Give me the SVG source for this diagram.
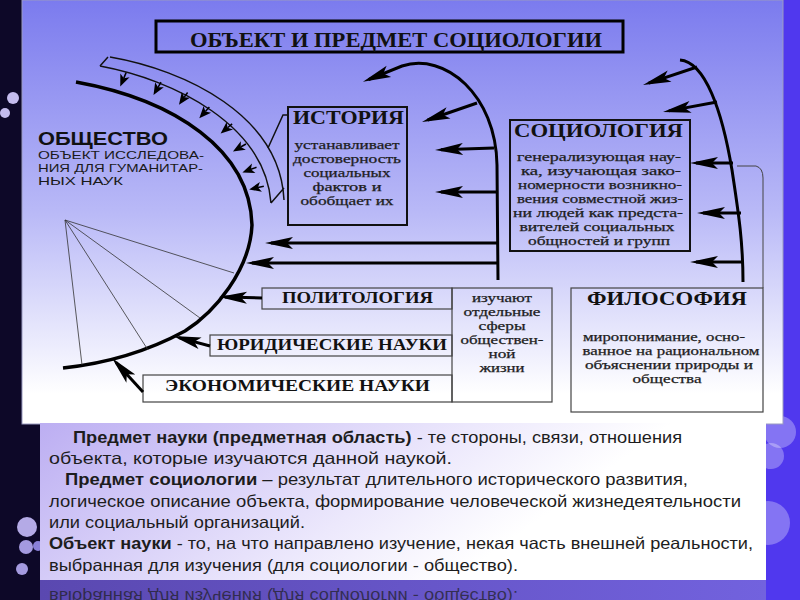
<svg xmlns="http://www.w3.org/2000/svg" width="800" height="600" viewBox="0 0 800 600">
<defs>
<style>
.box{fill:none;stroke:#111;stroke-width:2}
.lbox{fill:none;stroke:#444;stroke-width:1.2}
.ttl{font-family:"Liberation Serif","Times New Roman",serif;font-weight:bold;fill:#111}
.body{font-family:"Liberation Serif","Times New Roman",serif;font-size:12px;fill:#1e1e1e;text-anchor:middle;stroke:#1e1e1e;stroke-width:0.25}
.arr{fill:none;stroke:#000;stroke-width:3;marker-end:url(#ah)}
.pn{font-family:"Liberation Sans","DejaVu Sans",sans-serif;font-size:16.5px;fill:#1d1d1d}
.fan{stroke:#333;stroke-width:0.8;fill:none}
.bok{fill:#ffffff;fill-opacity:0.3}
</style>
<linearGradient id="gImg" x1="0" y1="0" x2="0" y2="1">
<stop offset="0" stop-color="#7b7bee"/>
<stop offset="0.5" stop-color="#b9b9f7"/>
<stop offset="0.93" stop-color="#ffffff"/>
<stop offset="1" stop-color="#ffffff"/>
</linearGradient>
<linearGradient id="gPan" x1="0" y1="0" x2="1" y2="0.3">
<stop offset="0" stop-color="#bcaef2"/>
<stop offset="0.55" stop-color="#ece8fc"/>
<stop offset="0.8" stop-color="#ffffff"/>
</linearGradient>
<linearGradient id="gRef" x1="0" y1="0" x2="1" y2="0">
<stop offset="0" stop-color="#5a48b0"/>
<stop offset="1" stop-color="#7262de"/>
</linearGradient>
<clipPath id="cRef"><rect x="40" y="580" width="726" height="20"/></clipPath>
<marker id="ah" viewBox="-30 -7 32 14" refX="-6" refY="0" markerWidth="32" markerHeight="14" markerUnits="userSpaceOnUse" orient="auto">
<path d="M0,0 L-28,-6 L-22,0 L-28,6 Z" fill="#000"/>
</marker>
<g id="sa"><path d="M7,0 L-5,-5 L-2,0 L-5,5 Z" fill="#000"/><path d="M-2,0 L-8,0" stroke="#000" stroke-width="1.5"/></g>
</defs>

<!-- background -->
<rect x="0" y="0" width="800" height="600" fill="#0d0828"/>
<rect x="766" y="0" width="34" height="600" fill="#5038ee"/>
<circle class="bok" cx="780" cy="432" r="16"/>
<circle class="bok" cx="771" cy="456" r="13"/>
<circle class="bok" cx="768" cy="523" r="22"/>
<circle cx="13" cy="98" r="6" fill="#c4bcee"/>
<circle cx="5" cy="113" r="5" fill="#c4bcee"/>
<circle cx="27" cy="527" r="10" fill="#b4aae6"/>
<circle cx="26" cy="547" r="7" fill="#a49ae0"/>
<circle cx="38" cy="546" r="5" fill="#8a80d8"/>
<circle cx="22" cy="569" r="6" fill="#a49ae0"/>

<!-- picture area -->
<rect x="22" y="0" width="761" height="424" fill="url(#gImg)" stroke="#9a9ac0" stroke-width="1"/>

<!-- title -->
<g id="title">
<rect x="156" y="21" width="467" height="31" fill="none" stroke="#000" stroke-width="3"/>
<text class="ttl" x="190" y="47" font-size="20" textLength="412" lengthAdjust="spacingAndGlyphs">ОБЪЕКТ И ПРЕДМЕТ СОЦИОЛОГИИ</text>
</g>

<!-- society -->
<g id="society">
<path d="M76,82 C175,100 250,150 252,225 C250,270 215,312 185,331 C150,350 110,363 63,368" fill="none" stroke="#000" stroke-width="3.5"/>
<path class="fan" d="M65,220 L234,273 M65,220 L200,318 M65,220 L148,350 M65,220 L82,365"/>
<text x="38" y="145" font-family="Liberation Sans,Arial,sans-serif" font-weight="bold" font-size="18" fill="#111" textLength="130" lengthAdjust="spacingAndGlyphs">ОБЩЕСТВО</text>
<g font-family="Liberation Sans,Arial,sans-serif" font-size="11.5" fill="#1a1a1a">
<text x="38" y="159" textLength="166" lengthAdjust="spacingAndGlyphs">ОБЪЕКТ  ИССЛЕДОВА-</text>
<text x="38" y="172" textLength="165" lengthAdjust="spacingAndGlyphs">НИЯ ДЛЯ ГУМАНИТАР-</text>
<text x="38" y="185" textLength="85" lengthAdjust="spacingAndGlyphs">НЫХ НАУК</text>
</g>
</g>

<!-- band of humanities -->
<g id="band">
<path d="M100,66 C175,80 265,125 271,203 M110,57 C185,70 280,115 284,200 M100,66 L108,57 M271,203 L284,188" fill="none" stroke="#111" stroke-width="1.5"/>
<path d="M289,115 L283,115 L268,148" fill="none" stroke="#111" stroke-width="1.5"/>
<use href="#sa" transform="translate(123,80) rotate(113)"/>
<use href="#sa" transform="translate(157,89) rotate(120)"/>
<use href="#sa" transform="translate(183,99) rotate(125)"/>
<use href="#sa" transform="translate(204,113) rotate(132)"/>
<use href="#sa" transform="translate(226,129) rotate(140)"/>
<use href="#sa" transform="translate(239,148) rotate(150)"/>
<use href="#sa" transform="translate(249,170) rotate(160)"/>
<use href="#sa" transform="translate(256,188) rotate(168)"/>
</g>

<!-- history -->
<g id="history">
<rect class="box" x="288" y="107" width="119" height="118"/>
<text class="ttl" x="293" y="124" font-size="18" textLength="111" lengthAdjust="spacingAndGlyphs">ИСТОРИЯ</text>
<text class="body" x="347" y="149" textLength="105" lengthAdjust="spacingAndGlyphs">устанавливает</text>
<text class="body" x="347" y="163" textLength="108" lengthAdjust="spacingAndGlyphs">достоверность</text>
<text class="body" x="347" y="177" textLength="87" lengthAdjust="spacingAndGlyphs">социальных</text>
<text class="body" x="347" y="191" textLength="69" lengthAdjust="spacingAndGlyphs">фактов  и</text>
<text class="body" x="347" y="205" textLength="93" lengthAdjust="spacingAndGlyphs">обобщает их</text>
</g>

<!-- sociology -->
<g id="sociology">
<rect class="box" x="510" y="120" width="180" height="131"/>
<text class="ttl" x="514" y="137" font-size="18" textLength="169" lengthAdjust="spacingAndGlyphs">СОЦИОЛОГИЯ</text>
<text class="body" x="599" y="161" textLength="164" lengthAdjust="spacingAndGlyphs">генерализующая нау-</text>
<text class="body" x="601" y="175" textLength="160" lengthAdjust="spacingAndGlyphs">ка, изучающая зако-</text>
<text class="body" x="600" y="189" textLength="164" lengthAdjust="spacingAndGlyphs">номерности возникно-</text>
<text class="body" x="600" y="203" textLength="166" lengthAdjust="spacingAndGlyphs">вения совместной жиз-</text>
<text class="body" x="598" y="217" textLength="170" lengthAdjust="spacingAndGlyphs">ни людей как предста-</text>
<text class="body" x="597" y="231" textLength="155" lengthAdjust="spacingAndGlyphs">вителей социальных</text>
<text class="body" x="599" y="245" textLength="142" lengthAdjust="spacingAndGlyphs">общностей и групп</text>
</g>

<!-- philosophy -->
<g id="philosophy">
<rect class="lbox" x="571" y="288" width="192" height="124"/>
<text class="ttl" x="587" y="305" font-size="19" textLength="160" lengthAdjust="spacingAndGlyphs">ФИЛОСОФИЯ</text>
<text class="body" x="664" y="341" textLength="162" lengthAdjust="spacingAndGlyphs">миропонимание, осно-</text>
<text class="body" x="671" y="355" textLength="177" lengthAdjust="spacingAndGlyphs">ванное на рациональном</text>
<text class="body" x="669" y="369" textLength="168" lengthAdjust="spacingAndGlyphs">объяснении природы и</text>
<text class="body" x="667" y="383" textLength="69" lengthAdjust="spacingAndGlyphs">общества</text>
</g>

<!-- particular sciences -->
<g id="politology">
<rect class="lbox" x="262" y="288" width="190" height="21"/>
<text class="ttl" x="282" y="303" font-size="16" textLength="151" lengthAdjust="spacingAndGlyphs">ПОЛИТОЛОГИЯ</text>
</g>
<g id="law">
<rect class="lbox" x="210" y="335" width="242" height="21"/>
<text class="ttl" x="217" y="350" font-size="16" textLength="230" lengthAdjust="spacingAndGlyphs">ЮРИДИЧЕСКИЕ НАУКИ</text>
</g>
<g id="economics">
<rect class="lbox" x="143" y="375" width="309" height="27"/>
<text class="ttl" x="165" y="391" font-size="16" textLength="265" lengthAdjust="spacingAndGlyphs">ЭКОНОМИЧЕСКИЕ  НАУКИ</text>
</g>
<g id="spheres">
<rect class="lbox" x="452" y="288" width="100" height="114"/>
<text class="body" x="502" y="302" textLength="60" lengthAdjust="spacingAndGlyphs">изучают</text>
<text class="body" x="502" y="316" textLength="77" lengthAdjust="spacingAndGlyphs">отдельные</text>
<text class="body" x="502" y="330" textLength="47" lengthAdjust="spacingAndGlyphs">сферы</text>
<text class="body" x="502" y="344" textLength="83" lengthAdjust="spacingAndGlyphs">обществен-</text>
<text class="body" x="502" y="358" textLength="27" lengthAdjust="spacingAndGlyphs">ной</text>
<text class="body" x="502" y="372" textLength="45" lengthAdjust="spacingAndGlyphs">жизни</text>
</g>

<!-- connectors -->
<g id="connectors">
<path class="arr" d="M498,280 L497,165 C496,95 445,52 402,66 L368.5,79.6"/>
<path class="arr" d="M477,103 L427.7,120"/>
<path class="arr" d="M494,148 L441,149.8"/>
<path class="arr" d="M496,192 L441,192"/>
<path class="arr" d="M498,243 L271,243"/>
<path class="arr" d="M498,263 L252,263"/>
<path d="M680,60 C705,62 722,110 732,170 C738,210 743,240 743,282" fill="none" stroke="#000" stroke-width="3"/>
<path class="arr" d="M697,67 L648.7,83.1"/>
<path class="arr" d="M717,102 L668.9,110.9"/>
<path class="arr" d="M733,163 L696,163"/>
<path class="arr" d="M741,213 L703,213"/>
<path class="arr" d="M743,262 L696,262"/>
<path d="M737,166 L756,166 Q763,168 763,178 L763,288" fill="none" stroke="#444" stroke-width="1"/>
<path class="arr" d="M262,298 L225,297.1"/>
<path class="arr" d="M210,346 L178.8,337.6"/>
<path class="arr" d="M143,392 L116,362.4"/>
</g>

<!-- text panel -->
<rect x="40" y="423" width="726" height="157" fill="url(#gPan)"/>
<g class="pn">
<text x="73" y="443" textLength="609" lengthAdjust="spacingAndGlyphs"><tspan font-weight="bold">Предмет науки (предметная область)</tspan> - те стороны, связи, отношения</text>
<text x="49" y="464" textLength="403" lengthAdjust="spacingAndGlyphs">объекта, которые изучаются данной наукой.</text>
<text x="65" y="485" textLength="623" lengthAdjust="spacingAndGlyphs"><tspan font-weight="bold">Предмет социологии</tspan> – результат длительного исторического развития,</text>
<text x="49" y="507" textLength="692" lengthAdjust="spacingAndGlyphs">логическое описание объекта, формирование человеческой жизнедеятельности</text>
<text x="49" y="528" textLength="256" lengthAdjust="spacingAndGlyphs">или социальный организаций.</text>
<text x="49" y="549" textLength="704" lengthAdjust="spacingAndGlyphs"><tspan font-weight="bold">Объект науки</tspan> - то, на что направлено изучение, некая часть внешней реальности,</text>
<text x="49" y="571" textLength="469" lengthAdjust="spacingAndGlyphs">выбранная для изучения (для социологии - общество).</text>
</g>

<!-- reflection -->
<rect x="40" y="580" width="726" height="20" fill="url(#gRef)"/>
<g clip-path="url(#cRef)">
<text class="pn" x="49" y="571" textLength="469" lengthAdjust="spacingAndGlyphs" transform="translate(0,1162) scale(1,-1)" fill="#2e2270" fill-opacity="0.7">выбранная для изучения (для социологии - общество).</text>
</g>
</svg>
